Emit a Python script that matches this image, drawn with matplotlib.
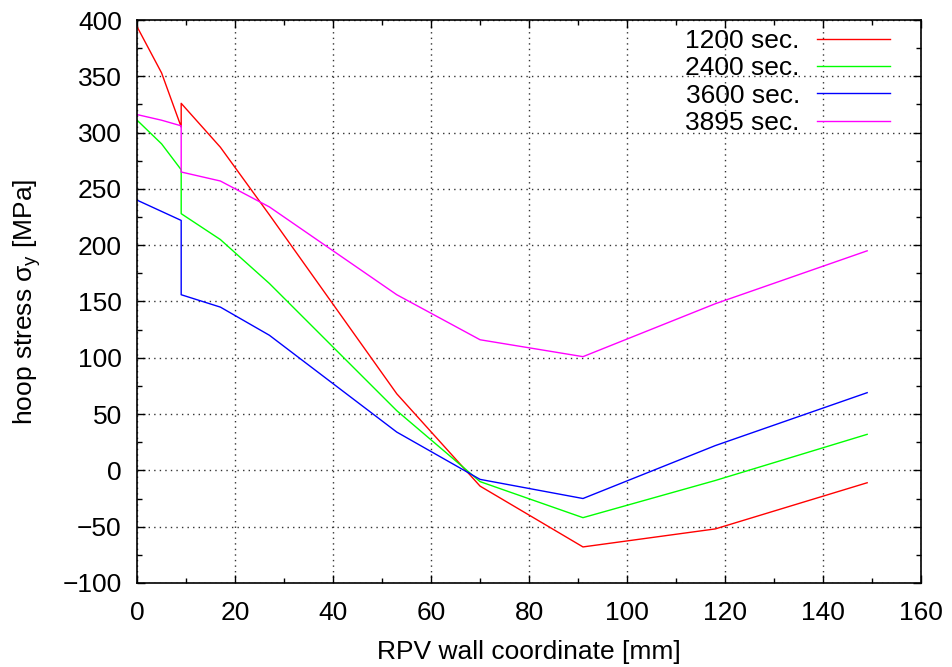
import matplotlib
matplotlib.use("Agg")
import matplotlib.pyplot as plt
from matplotlib.ticker import MultipleLocator

plt.rcParams['font.family'] = ['Liberation Sans', 'DejaVu Sans']
plt.rcParams['mathtext.fontset'] = 'custom'
plt.rcParams['mathtext.rm'] = 'Liberation Sans'
plt.rcParams['mathtext.it'] = 'Liberation Sans'

# wall coordinate nodes (mm); 9 mm repeated for the cladding/base-metal jump
x = [0, 5, 9, 9, 17, 27, 53, 70, 91, 118, 149]

s1200 = [394, 353, 305, 326, 287, 227, 68, -14, -68, -52, -11]
s2400 = [311, 290, 267, 228, 205, 166, 53, -10, -42, -9, 32]
s3600 = [240, 230, 222, 156, 145, 120, 34, -8, -25, 22, 69]
s3895 = [316, 311, 306, 265, 257, 234, 156, 116, 101, 148, 195]

labels = ['1200 sec.', '2400 sec.', '3600 sec.', '3895 sec.']
colors = ['#ff0000', '#00ff00', '#0000ff', '#ff00ff']

FS = 19

fig = plt.figure(figsize=(9.52, 6.67), dpi=100)
ax = fig.add_axes([0.144, 0.126, 0.8235, 0.844])

for ys, lab, c in zip([s1200, s2400, s3600, s3895], labels, colors):
    ax.plot(x, ys, color=c, lw=1.0, label=lab)

ax.set_xlim(0, 160)
ax.set_ylim(-100, 400)
ax.xaxis.set_major_locator(MultipleLocator(20))
ax.xaxis.set_minor_locator(MultipleLocator(10))
ax.yaxis.set_major_locator(MultipleLocator(50))
ax.yaxis.set_minor_locator(MultipleLocator(25))
ax.tick_params(which='both', direction='in', top=True, right=True, labelsize=FS)
ax.tick_params(which='major', length=6, width=1)
ax.tick_params(which='minor', length=3.5, width=1)
ax.tick_params(axis='x', which='major', pad=13)
ax.tick_params(axis='y', which='major', pad=11)
for sp in ax.spines.values():
    sp.set_linewidth(1.2)
ax.grid(True, which='major', color='#333333', linestyle=(0, (1, 3)), lw=1.0)

ax.set_xlabel('RPV wall coordinate [mm]', fontsize=FS, labelpad=11)
ax.set_ylabel(r'hoop stress $\sigma_y$ [MPa]', fontsize=FS, labelpad=14)

leg = ax.legend(loc='upper right', bbox_to_anchor=(0.9605, 0.9835),
                frameon=False, markerfirst=False, fontsize=FS,
                handlelength=2.77, handletextpad=0.65, labelspacing=0.12,
                borderpad=0.0, borderaxespad=0.0)

fig.savefig('out.png', dpi=100)
